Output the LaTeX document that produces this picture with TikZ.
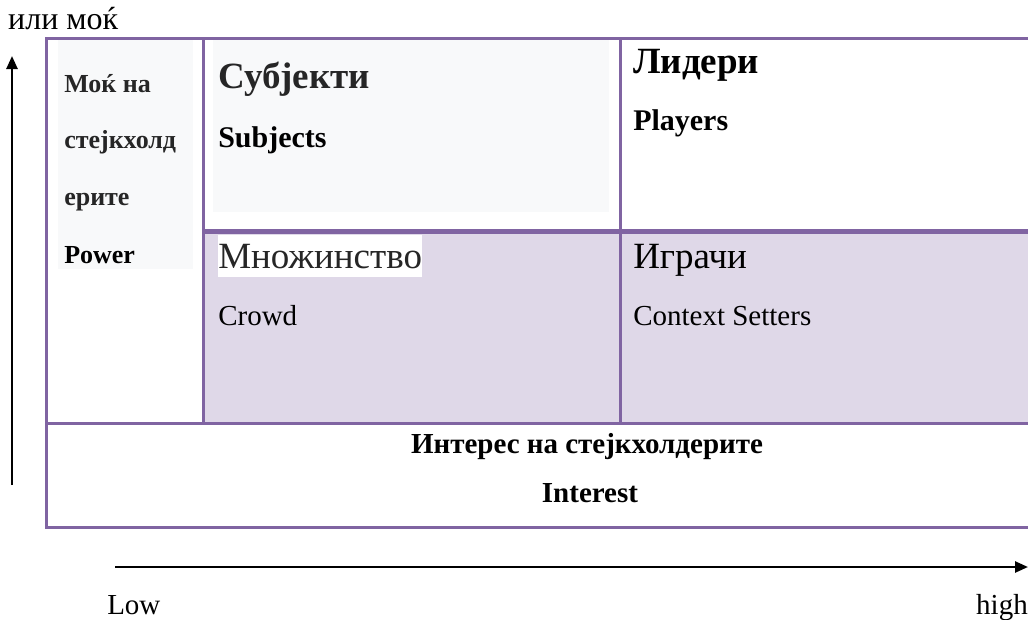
\documentclass[tikz,border=0pt]{standalone}
\usepackage{fontspec}
\setmainfont{Liberation Serif}
\usetikzlibrary{arrows.meta,positioning}
\definecolor{gridpurple}{HTML}{8064A2}
\definecolor{lavender}{HTML}{DFD8E8}
\definecolor{paper}{HTML}{F8F9FA}
\definecolor{ink}{HTML}{262626}

\begin{document}
\begin{tikzpicture}[x=1pt, y=-1pt, line width=0.5pt,
	grid/.style={draw=gridpurple, line width=3pt},
	head/.style={anchor=base west, inner sep=0pt, text=ink, font=\fontsize{37}{44}\selectfont},
	sub/.style={anchor=base west, inner sep=0pt, font=\fontsize{29}{35}\selectfont},
	side/.style={anchor=base west, inner sep=0pt, text=ink, font=\fontsize{26}{30}\selectfont\bfseries},
	axis/.style={-{Triangle[length=13pt,width=11pt]}, line width=2.5pt}]
	\useasboundingbox (0,0) rectangle (1028,619);
	% shaded cells
	\fill[lavender] (203,231) rectangle (1030,423);
	\fill[paper] (58,40) rectangle (193,269);
	\fill[paper] (213,40) rectangle (609,212);
	% grid corners
	\coordinate (nw) at (46,38);
	\coordinate (ne) at (1032,38);
	\coordinate (sw) at (46,527);
	\coordinate (se) at (1032,527);
	\coordinate (lw) at (46,423);
	\coordinate (le) at (1032,423);
	\coordinate (mw) at (203,231);
	\coordinate (me) at (1032,231);
	\coordinate (c1t) at (203,38);
	\coordinate (c1b) at (203,423);
	\coordinate (c2t) at (620,38);
	\coordinate (c2b) at (620,423);
	\draw [grid] (ne) -- (nw) -- (sw) -- (se);
	\draw [grid] (lw) -- (le);
	\draw [grid] (c1t) -- (c1b);
	\draw [grid] (c2t) -- (c2b);
	\draw [grid, line width=5pt] (mw) -- (me);
	% labels
	\node [sub, font=\fontsize{32}{38}\selectfont] (ili) at (8,29) {или моќ};
	\node [side] (mok) at (64,92) {Моќ на};
	\node [side] (stej) at (64,148) {стејкхолд};
	\node [side] (erite) at (64,205) {ерите};
	\node [side, text=black] (power) at (64,263) {Power};
	\node [head, font=\fontsize{37}{44}\selectfont\bfseries] (subj) at (218,88) {Субјекти};
	\node [sub, font=\fontsize{30}{36}\selectfont\bfseries] (subjects) at (218,147) {Subjects};
	\node [head, text=black, font=\fontsize{37}{44}\selectfont\bfseries] (lid) at (633,73) {Лидери};
	\node [sub, font=\fontsize{30}{36}\selectfont\bfseries] (players) at (633,130) {Players};
	\node [head, fill=white, text height=33pt, text depth=9pt] (mnoz) at (218,268) {Множинство};
	\node [sub] (crowd) at (218,325) {Crowd};
	\node [head, text=black] (igr) at (633,268) {Играчи};
	\node [sub] (context) at (633,325) {Context Setters};
	\node [sub, anchor=base, font=\fontsize{29}{35}\selectfont\bfseries] (inter) at (587,453) {Интерес на стејкхолдерите};
	\node [sub, anchor=base, font=\fontsize{29}{35}\selectfont\bfseries] (interest) at (590,502) {Interest};
	% axes
	\coordinate (vlo) at (12,485);
	\coordinate (vhi) at (12,56);
	\coordinate (hlo) at (115,567);
	\coordinate (hhi) at (1028,567);
	\draw [axis] (vlo) -- (vhi);
	\draw [axis] (hlo) -- (hhi);
	\node [sub] (low) at (107,614) {Low};
	\node [sub, anchor=base east] (high) at (1028,614) {high};
\end{tikzpicture}
\end{document}
